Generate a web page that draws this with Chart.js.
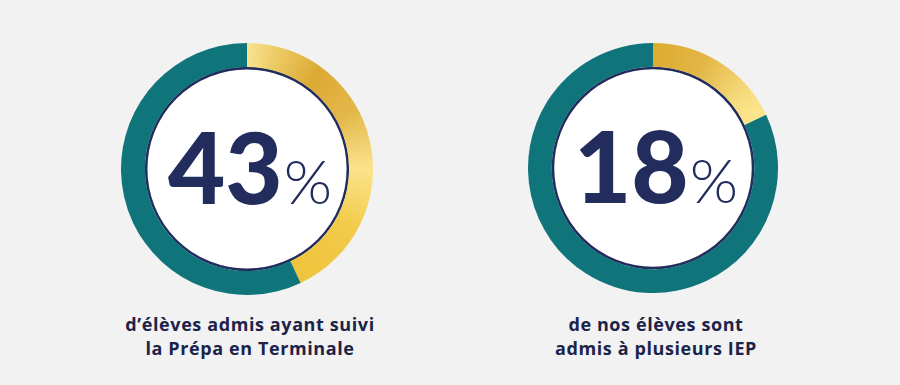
<!DOCTYPE html>
<html><head><meta charset="utf-8">
<script src="https://cdn.jsdelivr.net/npm/chart.js@4.4.1/dist/chart.umd.min.js"></script>
<style>
html,body{margin:0;padding:0;background:#f2f2f2;width:900px;height:385px;overflow:hidden;}
.wrap{position:absolute;}
.lbl{position:absolute;width:340px;text-align:center;font-family:"Open Sans",sans-serif;font-weight:700;font-size:18px;line-height:24px;letter-spacing:0.6px;color:#1b2349;}
</style></head><body>
<div class="wrap" style="left:121px;top:43px;width:252px;height:252px;"><canvas id="c1" width="252" height="252"></canvas></div>
<div class="wrap" style="left:528px;top:43px;width:250px;height:250px;"><canvas id="c2" width="250" height="250"></canvas></div>
<div class="lbl" id="l1" style="left:80px;top:312px;"></div>
<div class="lbl" id="l2" style="left:486px;top:312px;"></div>
<script>
const categories = ['Oui', 'Autres'];
const valuesPrepa = [43, 57];
const valuesIEP = [18, 82];
const centerLabels = ['43', '18'];
const captionPrepa = ['d\u2019élèves admis ayant suivi', 'la Prépa en Terminale'];
const captionIEP = ['de nos élèves sont', 'admis à plusieurs IEP'];

const TEAL = '#10757a';
const NAVY = '#222d5e';

document.getElementById('l1').innerHTML = captionPrepa.join('<br>');
document.getElementById('l2').innerHTML = captionIEP.join('<br>');

function goldStops(which){
  return which === 0
    ? [[0,'#f9e38f'],[0.04,'#eccb66'],[0.1,'#dcaa33'],[0.17,'#e2b74a'],[0.25,'#fbe38b'],[0.33,'#f2cb4a'],[0.44,'#efc33b'],[1,'#efc33b']]
    : [[0,'#dcab2f'],[0.07,'#e2b646'],[0.14,'#f6da7d'],[0.17,'#fce48c'],[0.2,'#fce48c'],[1,'#fce48c']];
}

function makeChart(id, values, centerText, which){
  const centerPlugin = {
    id: 'center' + which,
    beforeDatasetsDraw(chart){
      const arc = chart.getDatasetMeta(0).data[0];
      if(!arc) return;
      const ctx = chart.ctx;
      ctx.save();
      ctx.beginPath();
      ctx.arc(arc.x, arc.y, arc.innerRadius - 1.2, 0, Math.PI*2);
      ctx.fillStyle = '#ffffff';
      ctx.fill();
      ctx.lineWidth = 2.6;
      ctx.strokeStyle = NAVY;
      ctx.stroke();
      ctx.restore();
    },
    afterDraw(chart){
      const arc = chart.getDatasetMeta(0).data[0];
      if(!arc) return;
      const ctx = chart.ctx;
      ctx.save();
      ctx.fillStyle = NAVY;
      ctx.textBaseline = 'alphabetic';
      ctx.textAlign = 'left';
      const bigFont = '900 99px Lato, "DejaVu Sans", sans-serif';
      const smallFont = '300 62px Lato, "DejaVu Sans", sans-serif';
      ctx.font = bigFont;
      const w1 = ctx.measureText(centerText).width;
      ctx.font = smallFont;
      const w2 = ctx.measureText('%').width;
      const total = w1 + w2 + 1;
      let x = arc.x - total/2 + 3;
      const base = arc.y + 35;
      ctx.font = bigFont;
      ctx.fillText(centerText, x, base);
      ctx.font = smallFont;
      ctx.fillText('%', x + w1 + 1, base);
      ctx.restore();
    }
  };
  return new Chart(document.getElementById(id), {
    type: 'doughnut',
    data: {
      labels: categories,
      datasets: [{
        data: values,
        backgroundColor(context){
          if(context.dataIndex === 1) return TEAL;
          const chart = context.chart;
          const area = chart.chartArea;
          if(!area) return '#e8bf45';
          const cx = (area.left + area.right)/2, cy = (area.top + area.bottom)/2;
          const ctx = chart.ctx;
          let g;
          if(ctx.createConicGradient){
            g = ctx.createConicGradient(-Math.PI/2, cx, cy);
          } else {
            g = ctx.createLinearGradient(area.left, area.top, area.right, area.bottom);
          }
          goldStops(which).forEach(s => g.addColorStop(s[0], s[1]));
          return g;
        },
        borderWidth: 0,
        hoverOffset: 0
      }]
    },
    options: {
      responsive: false,
      animation: false,
      cutout: '81%',
      rotation: 0,
      layout: { padding: 0 },
      plugins: { legend: { display: false }, tooltip: { enabled: false } },
      events: []
    },
    plugins: [centerPlugin]
  });
}

makeChart('c1', valuesPrepa, centerLabels[0], 0);
makeChart('c2', valuesIEP, centerLabels[1], 1);
</script>
</body></html>
